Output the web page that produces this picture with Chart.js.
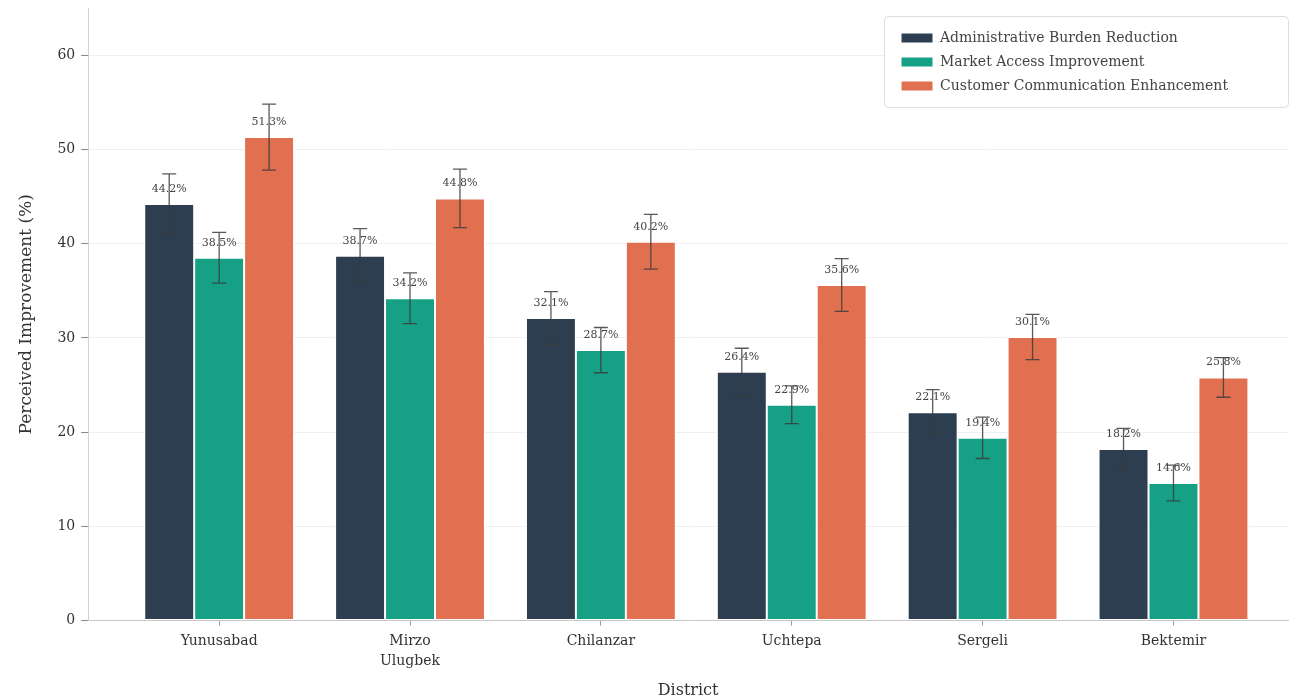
<!DOCTYPE html>
<html>
<head>
<meta charset="utf-8">
<title>Perceived Improvement by District</title>
<script src="https://cdn.jsdelivr.net/npm/chart.js@4.4.1/dist/chart.umd.min.js"></script>
<style>
  html, body { margin: 0; padding: 0; background: #ffffff; }
  #wrap { width: 1290px; height: 700px; }
</style>
</head>
<body>
<div id="wrap"><canvas id="grafica" width="1290" height="700"></canvas></div>
<script>
// ========== DATOS ==========
const distritos = ["Yunusabad", ["Mirzo", "Ulugbek"], "Chilanzar", "Uchtepa", "Sergeli", "Bektemir"];
const series = ["Administrative Burden Reduction", "Market Access Improvement", "Customer Communication Enhancement"];
const administrativo = [44.2, 38.7, 32.1, 26.4, 22.1, 18.2];
const mercado = [38.5, 34.2, 28.7, 22.9, 19.4, 14.6];
const comunicacion = [51.3, 44.8, 40.2, 35.6, 30.1, 25.8];
const errAdministrativo = [3.2, 2.9, 2.8, 2.5, 2.4, 2.2];
const errMercado = [2.7, 2.7, 2.4, 2.0, 2.2, 1.9];
const errComunicacion = [3.5, 3.1, 2.9, 2.8, 2.4, 2.1];
const yTicks = [0, 10, 20, 30, 40, 50, 60];

const colores = ["#2c3e50", "#16a085", "#e07050"];
const fuente = "'DejaVu Serif', 'Liberation Serif', serif";

function puntos(valores) {
  return valores.map((v, i) => ({ x: i, y: v }));
}

// ========== PLUGIN: barras de error, etiquetas y caja de leyenda ==========
const extras = {
  id: "extras",
  afterLayout(chart) {
    const lg = chart.legend;
    const w = lg.width, h = lg.height;
    lg.left = 891; lg.right = 891 + w;
    lg.top = 21; lg.bottom = 21 + h;
  },
  afterDatasetsDraw(chart) {
    const ctx = chart.ctx;
    const y = chart.scales.y;
    const errores = [errAdministrativo, errMercado, errComunicacion];
    ctx.save();
    chart.data.datasets.forEach((ds, d) => {
      const meta = chart.getDatasetMeta(d);
      meta.data.forEach((bar, i) => {
        const v = ds.data[i].y;
        const e = errores[d][i];
        const yTop = y.getPixelForValue(v + e);
        const yBot = y.getPixelForValue(v - e);
        ctx.strokeStyle = "rgba(60,60,60,0.85)";
        ctx.lineWidth = 1.3;
        ctx.beginPath();
        ctx.moveTo(bar.x, yTop); ctx.lineTo(bar.x, yBot);
        ctx.moveTo(bar.x - 7, yTop); ctx.lineTo(bar.x + 7, yTop);
        ctx.moveTo(bar.x - 7, yBot); ctx.lineTo(bar.x + 7, yBot);
        ctx.stroke();
        // etiqueta de valor
        ctx.fillStyle = "#444";
        ctx.font = "11px " + fuente;
        ctx.textAlign = "center";
        ctx.textBaseline = "bottom";
        ctx.fillText(v.toFixed(1) + "%", bar.x, y.getPixelForValue(v + 1.0));
      });
    });
    // caja de la leyenda
    ctx.fillStyle = "#ffffff";
    ctx.strokeStyle = "#dddddd";
    ctx.lineWidth = 1;
    ctx.beginPath();
    ctx.roundRect(884.5, 16.5, 404, 91, 4);
    ctx.fill();
    ctx.stroke();
    ctx.restore();
    // volver a dibujar la leyenda encima de la caja
    chart.legend.draw();
  }
};

// ========== GRAFICA ==========
const grafica = new Chart(document.getElementById("grafica"), {
  type: "bar",
  data: {
    datasets: [
      { label: series[0], data: puntos(administrativo), backgroundColor: colores[0] },
      { label: series[1], data: puntos(mercado), backgroundColor: colores[1] },
      { label: series[2], data: puntos(comunicacion), backgroundColor: colores[2] }
    ].map(ds => Object.assign(ds, {
      borderColor: "#ffffff",
      borderWidth: 1,
      borderSkipped: false,
      categoryPercentage: 0.785,
      barPercentage: 1.0
    }))
  },
  options: {
    responsive: false,
    animation: false,
    devicePixelRatio: 1,
    layout: { padding: { top: 8, right: 2, left: 14, bottom: 0 } },
    plugins: {
      legend: {
        position: "chartArea",
        align: "start",
        labels: {
          boxWidth: 32,
          boxHeight: 10,
          padding: 10,
          color: "#444",
          font: { family: fuente, size: 14 }
        }
      },
      tooltip: { enabled: false }
    },
    scales: {
      x: {
        type: "linear",
        offset: false,
        min: -0.686,
        max: 5.6,
        afterBuildTicks: (scale) => {
          scale.ticks = scale.ticks.filter(t => Number.isInteger(t.value) && t.value >= 0 && t.value < distritos.length);
        },
        ticks: {
          stepSize: 1,
          includeBounds: false,
          padding: 6,
          color: "#333",
          font: { family: fuente, size: 14, lineHeight: 1.4 },
          maxRotation: 0,
          autoSkip: false,
          callback: (v) => distritos[v]
        },
        grid: { display: true, offset: false, drawOnChartArea: false, drawTicks: true, tickLength: 5, color: "#999" },
        border: { color: "#c8c8c8", width: 1 },
        title: {
          display: true,
          text: "District",
          color: "#333",
          font: { family: fuente, size: 16 },
          padding: { top: 4, bottom: 0 }
        }
      },
      y: {
        min: 0,
        max: 65,
        afterBuildTicks: (scale) => {
          scale.ticks = yTicks.map(v => ({ value: v }));
        },
        afterFit: (scale) => {
          scale.paddingTop = 0;
          scale.paddingBottom = 0;
        },
        ticks: {
          stepSize: 10,
          includeBounds: false,
          padding: 6,
          color: "#333",
          font: { family: fuente, size: 14 }
        },
        grid: {
          color: "rgba(0,0,0,0.06)",
          tickColor: "#888",
          tickLength: 7,
          drawTicks: true
        },
        border: { color: "#d0d0d0", width: 1 },
        title: {
          display: true,
          text: "Perceived Improvement (%)",
          color: "#333",
          font: { family: fuente, size: 17 },
          padding: { top: 2, bottom: 15 }
        }
      }
    }
  },
  plugins: [extras]
});
</script>
</body>
</html>
